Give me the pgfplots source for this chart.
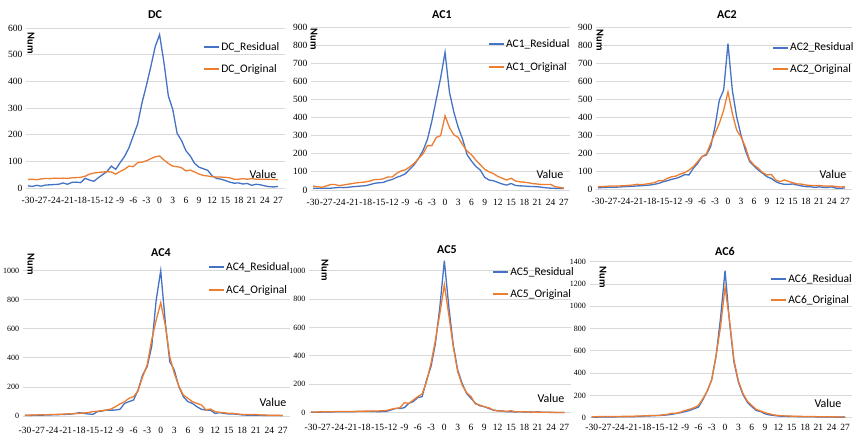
\documentclass[border=0pt]{standalone}
\usepackage{pgfplots}
\pgfplotsset{compat=1.18}
\usepackage{pgfplotstable}
\usepackage{fontspec}
\setmainfont{Carlito}
\newfontfamily\tnr{Liberation Serif}
\definecolor{xlblue}{HTML}{4472C4}
\definecolor{xlorange}{HTML}{ED7D31}
\definecolor{gridgray}{HTML}{D9D9D9}

\pgfplotstableread{
x r o
-30 8 32
-29 6 33
-28 10 31
-27 7 34
-26 11 36
-25 12 35
-24 13 37
-23 14 36
-22 19 37
-21 14 36
-20 21 38
-19 22 39
-18 20 40
-17 36 44
-16 30 52
-15 25 56
-14 38 58
-13 50 60
-12 62 61
-11 82 60
-10 70 52
-9 95 62
-8 118 70
-7 150 82
-6 195 80
-5 240 95
-4 320 97
-3 385 102
-2 455 110
-1 530 117
0 575 120
1 470 105
2 345 92
3 295 82
4 205 80
5 178 76
6 140 64
7 120 67
8 92 60
9 78 52
10 72 47
11 66 45
12 45 42
13 36 41
14 33 41
15 28 40
16 22 38
17 18 33
18 19 33
19 15 35
20 17 33
21 10 35
22 14 33
23 12 33
24 8 33
25 5 32
26 4 32
27 6 31
}\dcdata

\pgfplotstableread{
x r o
-30 10 22
-29 9 18
-28 10 15
-27 9 22
-26 10 30
-25 12 30
-24 14 24
-23 13 28
-22 15 32
-21 18 36
-20 20 40
-19 22 42
-18 24 45
-17 30 50
-16 37 58
-15 40 58
-14 42 62
-13 52 72
-12 58 72
-11 70 92
-10 78 105
-9 90 112
-8 115 128
-7 140 148
-6 175 175
-5 218 200
-4 280 245
-3 380 245
-2 500 290
-1 620 300
0 760 410
1 540 345
2 430 305
3 345 290
4 280 250
5 195 215
6 160 195
7 130 165
8 110 140
9 70 115
10 55 100
11 51 90
12 42 75
13 33 65
14 27 55
15 36 65
16 25 50
17 23 45
18 22 43
19 20 40
20 19 35
21 18 33
22 15 30
23 12 30
24 10 31
25 9 18
26 9 15
27 8 10
}\acadata

\pgfplotstableread{
x r o
-30 7 13
-29 8 14
-28 9 15
-27 10 17
-26 10 17
-25 11 17
-24 13 18
-23 14 20
-22 15 22
-21 17 26
-20 18 24
-19 20 27
-18 22 31
-17 26 35
-16 31 46
-15 40 46
-14 46 59
-13 54 68
-12 59 72
-11 68 83
-10 80 91
-9 78 105
-8 115 124
-7 142 152
-6 180 180
-5 189 194
-4 235 253
-3 345 309
-2 494 364
-1 549 438
0 808 540
1 549 420
2 401 327
3 300 290
4 216 235
5 152 161
6 128 133
7 105 115
8 87 91
9 68 78
10 59 81
11 41 50
12 31 41
13 26 50
14 26 42
15 28 35
16 22 28
17 17 27
18 13 22
19 13 20
20 9 19
21 12 20
22 9 17
23 9 17
24 12 17
25 4 13
26 4 11
27 6 13
}\acbdata

\pgfplotstableread{
x r o
-30 5 5
-29 4 6
-28 5 7
-27 6 8
-26 6 8
-25 7 9
-24 8 10
-23 9 11
-22 10 12
-21 11 14
-20 13 15
-19 16 17
-18 23 18
-17 18 21
-16 14 24
-15 11 30
-14 30 33
-13 34 37
-12 41 41
-11 40 48
-10 41 64
-9 46 83
-8 87 99
-7 99 122
-6 110 133
-5 179 174
-4 282 270
-3 340 351
-2 477 523
-1 798 660
0 1000 780
1 649 626
2 374 408
3 316 293
4 202 206
5 133 144
6 99 122
7 87 99
8 64 87
9 46 76
10 41 41
11 40 48
12 18 30
13 23 25
14 18 23
15 14 18
16 14 18
17 12 14
18 7 11
19 6 11
20 6 9
21 5 11
22 5 7
23 4 7
24 4 5
25 3 5
26 3 5
27 3 3
}\acddata

\pgfplotstableread{
x r o
-30 4 5
-29 3 5
-28 4 6
-27 5 6
-26 5 7
-25 6 7
-24 6 8
-23 6 8
-22 7 8
-21 7 9
-20 8 9
-19 8 10
-18 9 11
-17 8 11
-16 9 12
-15 7 12
-14 8 14
-13 10 16
-12 19 24
-11 30 30
-10 30 35
-9 35 70
-8 66 66
-7 78 89
-6 106 113
-5 113 132
-4 230 219
-3 325 348
-2 490 513
-1 748 701
0 1070 901
1 748 689
2 478 466
3 301 289
4 207 195
5 136 141
6 101 113
7 66 61
8 49 54
9 42 42
10 30 35
11 19 19
12 14 12
13 12 12
14 7 9
15 7 14
16 5 7
17 7 6
18 5 7
19 5 5
20 3 4
21 6 4
22 3 3
23 3 3
24 2 3
25 2 2
26 2 2
27 1 2
}\acedata

\pgfplotstableread{
x r o
-30 6 9
-29 5 9
-28 6 10
-27 6 10
-26 7 10
-25 7 11
-24 8 11
-23 8 12
-22 9 12
-21 9 13
-20 10 14
-19 12 15
-18 15 17
-17 16 19
-16 18 20
-15 20 20
-14 22 25
-13 25 30
-12 30 40
-11 38 40
-10 45 50
-9 55 65
-8 65 75
-7 80 90
-6 95 110
-5 160 170
-4 240 240
-3 340 340
-2 560 560
-1 900 820
0 1320 1170
1 860 880
2 500 520
3 320 330
4 210 220
5 140 150
6 100 110
7 65 75
8 55 60
9 35 45
10 25 35
11 20 25
12 15 20
13 13 17
14 12 15
15 11 14
16 10 13
17 9 12
18 9 11
19 8 10
20 8 10
21 7 9
22 7 9
23 6 8
24 6 8
25 5 7
26 5 7
27 5 6
}\acfdata

\pgfplotsset{
  panel/.style={
    scale only axis, anchor=south west,
    axis line style={draw=none}, major tick length=0pt,
    ymajorgrids, grid style={color=gridgray, line width=0.8pt},
    xmin=-30.5, xmax=28.5, ymin=0,
    xtick={-30,-27,...,27},
    xticklabels={-30,-27,-24,-21,-18,-15,-12,-9,-6,-3,0,3,6,9,12,15,18,21,24,27},
    ticklabel style={font=\tnr\fontsize{9.5}{10}\selectfont},
    /pgf/number format/assume math mode=true,
    /pgf/number format/1000 sep={},
    clip=false,
    legend cell align=left,
    legend image code/.code={\draw[##1, line width=2pt] (0pt,0pt) -- (15pt,0pt);},
    legend style={draw=none, fill=none, anchor=north west, inner sep=0pt,
      row sep=9pt, nodes={inner sep=1pt},
      font=\fontsize{11.5}{13}\selectfont},
  },
  res/.style={color=xlblue, line width=1.3pt},
  ori/.style={color=xlorange, line width=1.3pt},
}

\begin{document}
\begin{tikzpicture}[x=1pt,y=1pt]
\useasboundingbox (0pt,0pt) rectangle (857pt,447pt);

% DC
\begin{axis}[panel, at={(25.8pt,259pt)}, width=258.8pt, height=160pt, ymax=600,
  ytick={0,100,...,600}, xticklabel style={yshift=-5.5pt},
  legend style={at={(0.685,0.916)}, row sep=10pt}]
\addplot[res] table[x=x,y=r]{\dcdata};
\addlegendentry{DC\_Residual}
\addplot[ori] table[x=x,y=o]{\dcdata};
\addlegendentry{DC\_Original}
\end{axis}

% AC1
\begin{axis}[panel, at={(310.8pt,257pt)}, width=259.7pt, height=163pt, ymax=900,
  ytick={0,100,...,900}, xticklabel style={yshift=-5.5pt},
  legend style={at={(0.682,0.930)}, row sep=11pt}]
\addplot[res] table[x=x,y=r]{\acadata};
\addlegendentry{AC1\_Residual}
\addplot[ori] table[x=x,y=o]{\acadata};
\addlegendentry{AC1\_Original}
\end{axis}

% AC2
\begin{axis}[panel, at={(595.8pt,258pt)}, width=255.7pt, height=162pt, ymax=900,
  ytick={0,100,...,900}, xticklabel style={yshift=-5.5pt},
  legend style={at={(0.689,0.910)}, row sep=10pt}]
\addplot[res] table[x=x,y=r]{\acbdata};
\addlegendentry{AC2\_Residual}
\addplot[ori] table[x=x,y=o]{\acbdata};
\addlegendentry{AC2\_Original}
\end{axis}

% AC4
\begin{axis}[panel, at={(22.7pt,31pt)}, width=267pt, height=145.3pt, ymax=1000,
  ytick={0,200,...,1000}, xticklabel style={yshift=-7.5pt},
  yticklabel style={font=\tnr\fontsize{8}{9}\selectfont},
  legend style={at={(0.694,1.064)}, row sep=11pt}]
\addplot[res] table[x=x,y=r]{\acddata};
\addlegendentry{AC4\_Residual}
\addplot[ori] table[x=x,y=o]{\acddata};
\addlegendentry{AC4\_Original}
\end{axis}

% AC5
\begin{axis}[panel, at={(308.8pt,34.3pt)}, width=262.2pt, height=156.2pt, ymax=1100,
  ytick={0,200,...,1000}, xticklabel style={yshift=-7.5pt},
  yticklabel style={font=\tnr\fontsize{8}{9}\selectfont},
  legend style={at={(0.699,0.936)}, row sep=10pt}]
\addplot[res] table[x=x,y=r]{\acedata};
\addlegendentry{AC5\_Residual}
\addplot[ori] table[x=x,y=o]{\acedata};
\addlegendentry{AC5\_Original}
\end{axis}

% AC6
\begin{axis}[panel, at={(589.5pt,29.3pt)}, width=262.2pt, height=156pt, ymax=1400,
  ytick={0,200,...,1400}, xticklabel style={yshift=-3pt},
  yticklabel style={font=\tnr\fontsize{8}{9}\selectfont},
  legend style={at={(0.689,0.925)}}]
\addplot[res] table[x=x,y=r]{\acfdata};
\addlegendentry{AC6\_Residual}
\addplot[ori] table[x=x,y=o]{\acfdata};
\addlegendentry{AC6\_Original}
\end{axis}

% titles
\begin{scope}[every node/.style={font=\bfseries\fontsize{12}{14}\selectfont, inner sep=0pt}]
\node at (155pt,432pt) {DC};
\node at (442pt,432pt) {AC1};
\node at (727pt,432pt) {AC2};
\node at (161pt,194pt) {AC4};
\node at (447pt,197pt) {AC5};
\node at (725pt,196pt) {AC6};
\end{scope}

% Num labels
\begin{scope}[every node/.style={font=\bfseries\fontsize{10.5}{12}\selectfont, inner sep=0pt, rotate=-90}]
\node at (31pt,404pt) {Num};
\node at (314pt,408pt) {Num};
\node at (600pt,407pt) {Num};
\node at (31pt,183pt) {Num};
\node at (325pt,177pt) {Num};
\node at (603pt,170pt) {Num};
\end{scope}

% Value labels
\begin{scope}[every node/.style={font=\fontsize{12}{14}\selectfont, inner sep=0pt}]
\node at (263pt,273pt) {Value};
\node at (550pt,273pt) {Value};
\node at (833pt,273pt) {Value};
\node at (273pt,45pt) {Value};
\node at (551pt,49pt) {Value};
\node at (828pt,44pt) {Value};
\end{scope}
\end{tikzpicture}
\end{document}
